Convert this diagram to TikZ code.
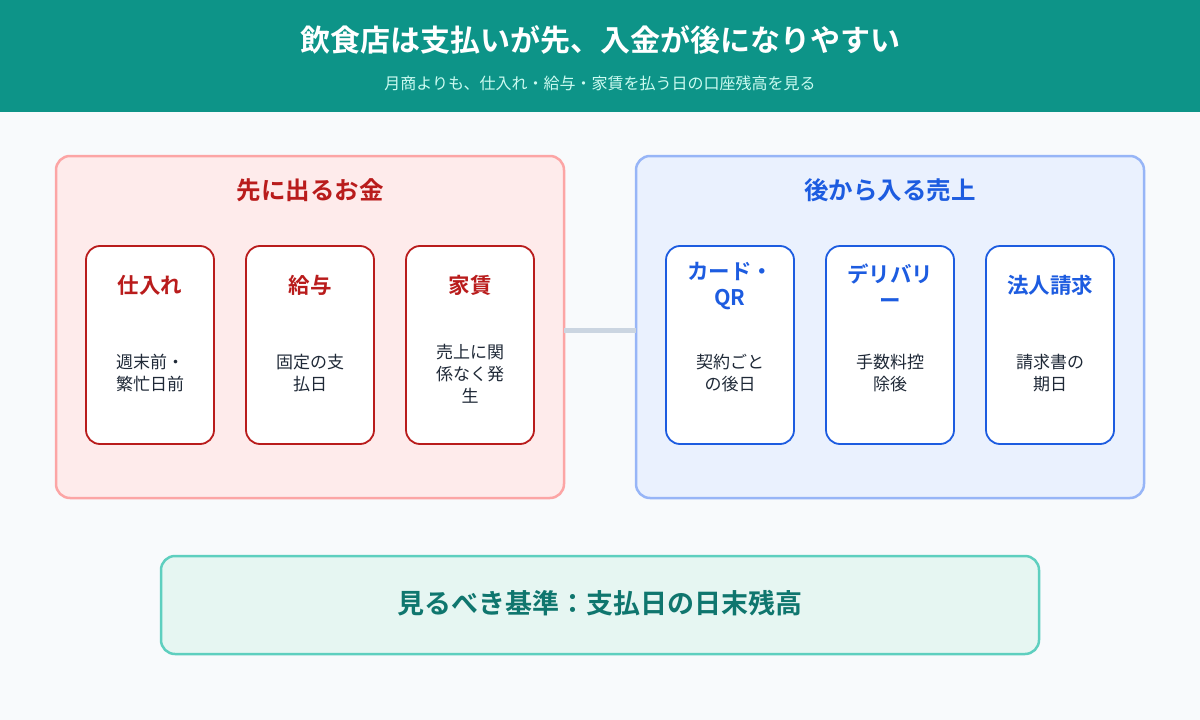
\documentclass[tikz,border=0pt]{standalone}
\usepackage{fontspec}
\setmainfont{Noto Sans CJK JP}[BoldFont={Noto Sans CJK JP Bold}]
\definecolor{bg}{HTML}{F8FAFC}
\definecolor{hdr}{HTML}{0D9488}
\definecolor{subc}{HTML}{CCFBF1}
\definecolor{redfill}{HTML}{FEEBEB}
\definecolor{redline}{HTML}{FCA5A5}
\definecolor{redtxt}{HTML}{B91C1C}
\definecolor{bluefill}{HTML}{EAF1FE}
\definecolor{blueline}{HTML}{97B5F7}
\definecolor{bluetxt}{HTML}{1D5CE0}
\definecolor{bodytxt}{HTML}{1F2937}
\definecolor{conn}{HTML}{CBD5E1}
\definecolor{grnfill}{HTML}{E6F6F2}
\definecolor{grnline}{HTML}{5ECFBF}
\definecolor{grntxt}{HTML}{0F766E}
\tikzset{
  panel/.style={rounded corners=14pt, line width=2.5pt},
  card/.style={rounded corners=14pt, line width=1.8pt, fill=white},
  cardtitle/.style={font=\bfseries\fontsize{21.5}{26}\selectfont, align=center},
  cardbody/.style={font=\fontsize{17}{22}\selectfont, text=bodytxt, align=center},
  paneltitle/.style={font=\bfseries\fontsize{24.5}{30}\selectfont},
}
\begin{document}
\begin{tikzpicture}[x=1pt,y=-1pt]
\useasboundingbox (0,0) rectangle (1200,720);
\fill[bg] (0,0) rectangle (1200,720);
\fill[hdr] (0,0) rectangle (1200,112);
\node[text=white, font=\bfseries\fontsize{30}{36}\selectfont] (title) at (600,40) {飲食店は支払いが先、入金が後になりやすい};
\node[text=subc, font=\fontsize{16}{20}\selectfont] (subtitle) at (600,83) {月商よりも、仕入れ・給与・家賃を払う日の口座残高を見る};

% connector
\coordinate (cl) at (564,330);
\coordinate (cr) at (636,330);

% panels
\draw[panel, fill=redfill, draw=redline] (56,156) rectangle (564,498);
\draw[panel, fill=bluefill, draw=blueline] (636,156) rectangle (1144,498);
\node[paneltitle, text=redtxt] (lt) at (310,190) {先に出るお金};
\node[paneltitle, text=bluetxt] (rt) at (890,190) {後から入る売上};

\draw[conn, line width=5pt] (cl) -- (cr);

% red cards
\draw[card, draw=redtxt] (86,246) rectangle (214,444);
\draw[card, draw=redtxt] (246,246) rectangle (374,444);
\draw[card, draw=redtxt] (406,246) rectangle (534,444);
\node[cardtitle, text=redtxt] (c1t) at (150,285) {仕入れ};
\node[cardtitle, text=redtxt] (c2t) at (310,285) {給与};
\node[cardtitle, text=redtxt] (c3t) at (470,285) {家賃};
\node[cardbody] (c1b) at (150,373) {週末前・\\繁忙日前};
\node[cardbody] (c2b) at (310,373) {固定の支\\払日};
\node[cardbody] (c3b) at (470,374) {売上に関\\係なく発\\生};

% blue cards
\draw[card, draw=bluetxt] (666,246) rectangle (794,444);
\draw[card, draw=bluetxt] (826,246) rectangle (954,444);
\draw[card, draw=bluetxt] (986,246) rectangle (1114,444);
\node[cardtitle, text=bluetxt] (d1t) at (730,286) {カード・\\QR};
\node[cardtitle, text=bluetxt] (d2t) at (890,286) {デリバリ\\ー};
\node[cardtitle, text=bluetxt] (d3t) at (1050,285) {法人請求};
\node[cardbody] (d1b) at (730,373) {契約ごと\\の後日};
\node[cardbody] (d2b) at (890,373) {手数料控\\除後};
\node[cardbody] (d3b) at (1050,373) {請求書の\\期日};

% bottom
\draw[panel, fill=grnfill, draw=grnline] (161,556) rectangle (1039,654);
\node[text=grntxt, font=\bfseries\fontsize{27}{32}\selectfont] (crit) at (600,603) {見るべき基準：支払日の日末残高};
\end{tikzpicture}
\end{document}
